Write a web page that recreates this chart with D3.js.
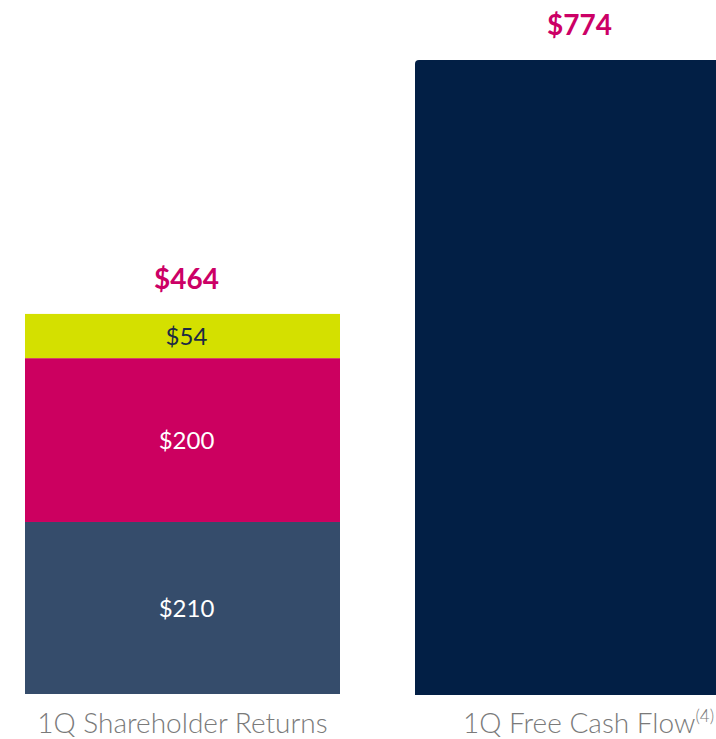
<!DOCTYPE html>
<html>
<head>
<meta charset="utf-8">
<script src="https://cdn.jsdelivr.net/npm/d3@7/dist/d3.min.js"></script>
<style>
  html, body { margin: 0; padding: 0; background: #fff; overflow: hidden; }
  svg { display: block; font-family: Lato, "Open Sans", sans-serif; }
</style>
</head>
<body>
<div class="chart"></div>
<script>
  // chart data
  let categories = ['1Q Shareholder Returns', '1Q Free Cash Flow'];
  let superscripts = ['', '(4)'];
  let segmentNames = ['base', 'middle', 'top'];
  let shareholderValues = [210, 200, 54];
  let freeCashFlowValues = [774];
  let totals = [464, 774];

  let width = 716;
  let height = 739;

  let svg = d3
    .select('.chart')
    .append('svg')
    .attr('width', width)
    .attr('height', height);

  let x = d3
    .scaleBand()
    .domain(categories)
    .range([25, 730])
    .paddingInner(75 / 390)
    .paddingOuter(0);

  let y = d3.scaleLinear().domain([0, 774]).range([694, 60]);

  let segColors = ['#354C6B', '#CC0060', '#D4E000'];
  let segText = ['#ffffff', '#ffffff', '#1b2a44'];

  // stacked bar for shareholder returns
  let stackRow = {};
  segmentNames.forEach((s, i) => (stackRow[s] = shareholderValues[i]));
  let stacked = d3.stack().keys(segmentNames)([stackRow]);

  let left = svg.append('g');

  left
    .selectAll('rect')
    .data(stacked)
    .enter()
    .append('rect')
    .attr('x', x(categories[0]))
    .attr('width', x.bandwidth())
    .attr('y', d => y(d[0][1]))
    .attr('height', d => y(d[0][0]) - y(d[0][1]))
    .attr('fill', (d, i) => segColors[i]);

  left
    .selectAll('text')
    .data(stacked)
    .enter()
    .append('text')
    .attr('x', x(categories[0]) + x.bandwidth() / 2 + 4)
    .attr('y', d => (y(d[0][0]) + y(d[0][1])) / 2 + 9)
    .attr('text-anchor', 'middle')
    .attr('font-size', 24)
    .attr('fill', (d, i) => segText[i])
    .text((d, i) => '$' + shareholderValues[i]);

  // free cash flow bar, rounded top corners
  let right = svg.append('g');
  let r = 4;
  right
    .selectAll('path')
    .data(freeCashFlowValues)
    .enter()
    .append('path')
    .attr('fill', '#021F45')
    .attr('d', d => {
      let x0 = x(categories[1]);
      let x1 = x0 + x.bandwidth();
      let y0 = y(d);
      let y1 = y(0) + 1;
      return `M${x0},${y1}V${y0 + r}Q${x0},${y0} ${x0 + r},${y0}H${x1 - r}Q${x1},${y0} ${x1},${y0 + r}V${y1}Z`;
    });

  // totals on top
  svg
    .append('g')
    .selectAll('text')
    .data(totals)
    .enter()
    .append('text')
    .attr('x', (d, i) => x(categories[i]) + x.bandwidth() / 2 + (i ? 7 : 4))
    .attr('y', d => y(d) - 25)
    .attr('text-anchor', 'middle')
    .attr('font-size', 28)
    .attr('font-weight', 700)
    .attr('fill', '#CC0066')
    .text(d => '$' + d);

  // category labels
  let labels = svg
    .append('g')
    .selectAll('text')
    .data(categories)
    .enter()
    .append('text')
    .attr('x', (d, i) => x(d) + x.bandwidth() / 2 + (i ? 16 : 0))
    .attr('y', 733)
    .attr('text-anchor', 'middle')
    .attr('font-size', 28)
    .attr('font-weight', 300)
    .attr('fill', '#7a7a7a');

  labels.append('tspan').text(d => d);
  labels
    .append('tspan')
    .attr('dy', -11)
    .attr('font-size', 17)
    .text((d, i) => superscripts[i]);
</script>
</body>
</html>
